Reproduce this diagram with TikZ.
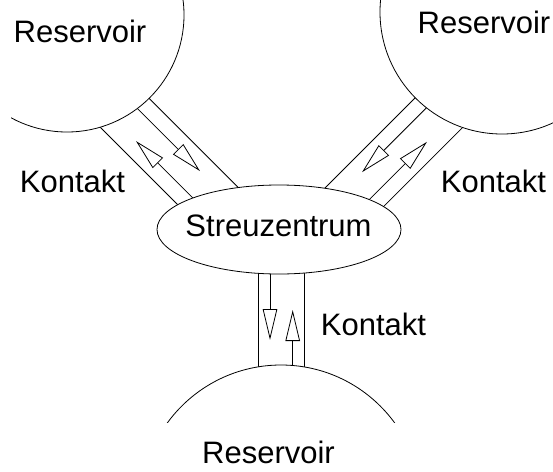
\documentclass[tikz,border=0pt]{standalone}
\usepackage{fontspec}
\setmainfont{Liberation Sans}
\usetikzlibrary{arrows.meta,shapes.geometric}
\begin{document}
\begin{tikzpicture}[x=1pt,y=-1pt,
  wall/.style={line width=0.8pt},
  flow/.style={line width=0.8pt,-{Triangle[open,length=31pt,width=14.5pt,line width=0.8pt]}},
  res/.style={draw,line width=0.8pt,fill=white,inner sep=0pt},
  lbl/.style={font=\fontsize{31}{37}\selectfont,anchor=base,inner sep=0pt}]
\useasboundingbox (0,0) rectangle (553,471);
% channel coordinates
\coordinate (tlA1) at (78.79,105.79);  \coordinate (tlA2) at (213.14,240.14);
\coordinate (tlB1) at (117.68,66.90);  \coordinate (tlB2) at (252.03,201.25);
\coordinate (tlIn) at (106.72,77.86);  \coordinate (tlInTip) at (200.0,171.1);
\coordinate (tlOut) at (224.10,229.18); \coordinate (tlOutTip) at (136.0,141.08);
\coordinate (trA1) at (436.21,76.79);  \coordinate (trA2) at (301.86,211.14);
\coordinate (trB1) at (474.75,115.33); \coordinate (trB2) at (340.40,249.68);
\coordinate (trIn) at (446.82,87.40);  \coordinate (trInTip) at (362.0,172.2);
\coordinate (trOut) at (329.79,239.07); \coordinate (trOutTip) at (427.0,141.8);
\coordinate (bA1) at (258.3,250); \coordinate (bA2) at (258.3,380);
\coordinate (bB1) at (304,250);   \coordinate (bB2) at (304,380);
\coordinate (bIn) at (292.7,380); \coordinate (bInTip) at (292.7,310);
\coordinate (bOut) at (270,250);  \coordinate (bOutTip) at (270,340);
% channel walls
\draw[wall] (tlA1) -- (tlA2);
\draw[wall] (tlB1) -- (tlB2);
\draw[wall] (trA1) -- (trA2);
\draw[wall] (trB1) -- (trB2);
\draw[wall] (bA1) -- (bA2);
\draw[wall] (bB1) -- (bB2);
% flows
\draw[flow] (tlIn) -- (tlInTip);
\draw[flow] (tlOut) -- (tlOutTip);
\draw[flow] (trIn) -- (trInTip);
\draw[flow] (trOut) -- (trOutTip);
\draw[flow] (bIn) -- (bInTip);
\draw[flow] (bOut) -- (bOutTip);
% reservoirs
\begin{scope}
\clip (11,0) rectangle (553,422);
\node[res,circle,minimum size=234pt] (resTL) at (67,15) {};
\node[res,circle,minimum size=244pt] (resTR) at (502,12) {};
\node[res,circle,minimum size=281pt] (resB) at (281,505.5) {};
\end{scope}
\node[res,ellipse,minimum width=244pt,minimum height=89pt] (sz) at (279,229.5) {};
% labels
\node[lbl] (tSZ) at (278.5,236.7) {Streuzentrum};
\node[lbl] (tRTL) at (80,42) {Reservoir};
\node[lbl] (tRTR) at (484,33) {Reservoir};
\node[lbl] (tRB) at (268.5,463) {Reservoir};
\node[lbl] (tKL) at (72.5,192) {Kontakt};
\node[lbl] (tKR) at (493.5,192) {Kontakt};
\node[lbl] (tKB) at (373.5,335) {Kontakt};
\end{tikzpicture}
\end{document}
